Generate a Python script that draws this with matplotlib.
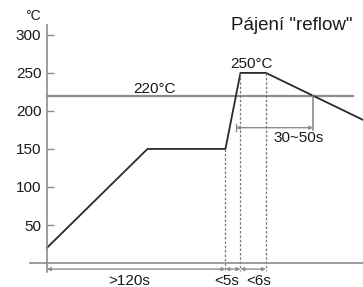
import numpy as np
import matplotlib
matplotlib.use("Agg")
import matplotlib.pyplot as plt

plt.rcParams['font.family'] = ['Liberation Sans', 'DejaVu Sans']

# reflow profile (schematic time units, temperature in deg C)
time_pts = [0, 67, 119, 129, 146, 212]
temp_pts = [20, 150, 150, 250, 250, 187]
liquidus = 220
yticks = [50, 100, 150, 200, 250, 300]
span_labels = ['>120s', '<5s', '<6s']
title = 'Pájení "reflow"'

axc = '#8c8c8c'
txt = '#1a1a1a'
fs = 11

fig = plt.figure(figsize=(3.63, 2.87), dpi=100)
ax = fig.add_axes([30/363, 1-272/287, 333/363, 247/287])
ax.set_xlim(-11.3, 210.7)
ax.set_ylim(-11.8, 313)
ax.spines['top'].set_visible(False)
ax.spines['right'].set_visible(False)
ax.spines['left'].set_position(('data', 0))
ax.spines['bottom'].set_position(('data', 0))
for k in ('left', 'bottom'):
    ax.spines[k].set_color(axc)
    ax.spines[k].set_linewidth(1.2)
ax.set_xticks([])
ax.set_yticks(yticks)
ax.tick_params(axis='y', direction='in', length=5, color=axc, width=1,
               labelsize=fs, labelcolor=txt, pad=4)

# 220 line
ax.plot([0, 204], [liquidus, liquidus], color=axc, lw=1.6)
ax.text(72, liquidus + 3, '%d°C' % liquidus, ha='center', va='baseline', fontsize=fs, color=txt)

# profile
ax.plot(time_pts, temp_pts, color='#2a2a2a', lw=1.3)
ax.text((time_pts[3] + time_pts[4]) / 2 - 1, temp_pts[3] + 6, '%d°C' % temp_pts[3],
        ha='center', va='baseline', fontsize=fs, color=txt)

# crossing points with 220
t_up = np.interp(liquidus, temp_pts[2:4], time_pts[2:4])
t_down = np.interp(liquidus, temp_pts[4:6][::-1], time_pts[4:6][::-1])

arr_y = -8
# dashed verticals
for t, top in [(time_pts[2], temp_pts[2]), (time_pts[3], temp_pts[3]), (time_pts[4], temp_pts[4])]:
    ax.plot([t, t], [top, arr_y - 2], color='#777777', lw=0.9, ls=(0, (2, 1.5)))

# span arrows at bottom
edges = [0, time_pts[2], time_pts[3], time_pts[4]]
for i in range(3):
    ax.annotate('', xy=(edges[i], arr_y), xytext=(edges[i+1], arr_y),
                arrowprops=dict(arrowstyle='<|-|>', color=axc, lw=1.0,
                                mutation_scale=5, shrinkA=0, shrinkB=0))
lbl_x = [55, 120, 141]
for x, s in zip(lbl_x, span_labels):
    ax.text(x, -14, s, ha='center', va='top', fontsize=fs, color=txt, clip_on=False)

# 30~50s arrow
ay = 178
ax.plot([t_down, t_down], [liquidus, ay - 3], color=axc, lw=1.2)
ax.plot([t_up, t_up], [ay + 5, ay - 5], color=axc, lw=1.0)
ax.annotate('', xy=(t_up, ay), xytext=(t_down, ay),
            arrowprops=dict(arrowstyle='<|-|>', color=axc, lw=1.0,
                            mutation_scale=5, shrinkA=0, shrinkB=0))
ax.text((t_up + t_down) / 2 + 16, ay - 4, '30~50s', ha='center', va='top', fontsize=fs, color=txt)

fig.text(33/363, 1-16/287, '°C', ha='center', va='center', fontsize=10, color=txt)
fig.text(292/363, 1-30/287, title, ha='center', va='baseline', fontsize=13.5, color=txt)

fig.savefig('out.png', dpi=100)
